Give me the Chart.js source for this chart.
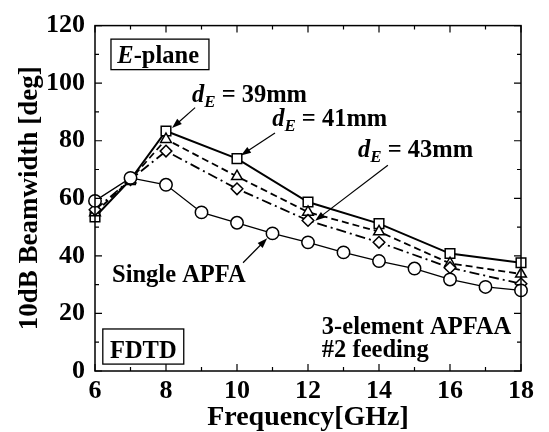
<!DOCTYPE html>
<html><head><meta charset="utf-8">
<script src="https://cdn.jsdelivr.net/npm/chart.js@4"></script>
<style>html,body{margin:0;padding:0;background:#fff}#wrap{width:549px;height:432px;position:relative}</style>
</head><body><div id="wrap"><canvas id="c"></canvas></div>
<script>
// ---- data ----
const arrayFreqs = [6, 7, 8, 10, 12, 14, 16, 18];
const dE39 = [53.5, 66.5, 83.4, 73.8, 58.7, 51.2, 40.8, 37.6];
const dE41 = [55, 66.5, 80.5, 67.6, 55.2, 48.4, 37.4, 33.7];
const dE43 = [56, 66.5, 76.4, 63.3, 52.3, 44.7, 35.9, 30.3];
const singleFreqs = [6, 7, 8, 9, 10, 11, 12, 13, 14, 15, 16, 17, 18];
const singleAPFA = [59.1, 67.1, 64.7, 55.1, 51.5, 47.8, 44.7, 41.2, 38.2, 35.6, 31.8, 29.2, 28];
const xTicks = [6, 8, 10, 12, 14, 16, 18];
const yTicks = [0, 20, 40, 60, 80, 100, 120];

const FONT = '"Liberation Serif", "Times New Roman", serif';
const pts = (xs, ys) => xs.map((x, i) => ({x: x, y: ys[i]}));

function ds(label, xs, ys, style, r, dash, lw) {
  return {label, data: pts(xs, ys), borderColor: '#000', backgroundColor: '#fff',
    pointStyle: style, pointRadius: r, pointHoverRadius: r, pointBorderWidth: 1.5,
    pointBackgroundColor: '#fff', pointBorderColor: '#000', clip: false,
    borderWidth: lw, borderDash: dash, tension: 0, fill: false};
}

const annotations = {
  id: 'annotations',
  afterDraw(chart) {
    const {ctx, chartArea: ca, scales: {x, y}} = chart;
    ctx.save();
    // frame
    ctx.strokeStyle = '#000'; ctx.lineWidth = 1.5;
    ctx.strokeRect(ca.left, ca.top, ca.right - ca.left, ca.bottom - ca.top);
    // inward ticks
    ctx.lineWidth = 1.2;
    for (let v = 6; v <= 18; v += 1) {
      const px = x.getPixelForValue(v);
      const len = (v % 2 === 0) ? 7 : 4;
      ctx.beginPath();
      ctx.moveTo(px, ca.bottom); ctx.lineTo(px, ca.bottom - len);
      ctx.moveTo(px, ca.top); ctx.lineTo(px, ca.top + len);
      ctx.stroke();
    }
    for (let v = 0; v <= 120; v += 10) {
      const py = y.getPixelForValue(v);
      const len = (v % 20 === 0) ? 7 : 4;
      ctx.beginPath();
      ctx.moveTo(ca.left, py); ctx.lineTo(ca.left + len, py);
      ctx.moveTo(ca.right, py); ctx.lineTo(ca.right - len, py);
      ctx.stroke();
    }
    const X = v => x.getPixelForValue(v), Y = v => y.getPixelForValue(v);
    ctx.fillStyle = '#000';
    ctx.textBaseline = 'alphabetic';
    ctx.textAlign = 'left';
    const bold = 'bold 24.5px ' + FONT, ibold = 'italic bold 24.5px ' + FONT, isub = 'italic bold 17px ' + FONT;

    function dText(x0, y0, rest) {
      let px = X(x0), py = Y(y0);
      ctx.font = ibold; ctx.fillText('d', px, py); px += ctx.measureText('d').width;
      ctx.font = isub; ctx.fillText('E', px, py + 5); px += ctx.measureText('E').width;
      ctx.font = bold; ctx.fillText(rest, px, py);
    }
    function arrow(x1, y1, x2, y2) {
      const a = X(x1), b = Y(y1), c = X(x2), d = Y(y2);
      const ang = Math.atan2(d - b, c - a), L = 10, W = 3.5;
      ctx.lineWidth = 1.2;
      ctx.beginPath(); ctx.moveTo(a, b); ctx.lineTo(c - Math.cos(ang) * L * 0.8, d - Math.sin(ang) * L * 0.8); ctx.stroke();
      ctx.beginPath();
      ctx.moveTo(c, d);
      ctx.lineTo(c - L * Math.cos(ang) + W * Math.sin(ang), d - L * Math.sin(ang) - W * Math.cos(ang));
      ctx.lineTo(c - L * Math.cos(ang) - W * Math.sin(ang), d - L * Math.sin(ang) + W * Math.cos(ang));
      ctx.closePath(); ctx.fill();
    }
    dText(8.73, 93.6, ' = 39mm');
    arrow(8.82, 91.5, 8.17, 84.4);
    dText(10.99, 85.1, ' = 41mm');
    arrow(11.07, 82.7, 10.11, 74.9);
    dText(13.41, 74.2, ' = 43mm');
    arrow(14.25, 71.5, 12.2, 52.2);
    ctx.font = bold;
    ctx.fillText('Single APFA', X(6.48), Y(30.8));
    arrow(10.17, 37.6, 10.85, 46.1);
    ctx.fillText('3-element APFAA', X(12.39), Y(12.9));
    ctx.fillText('#2 feeding', X(12.39), Y(4.7));

    // E-plane box
    ctx.lineWidth = 1.3;
    ctx.fillStyle = '#fff';
    ctx.fillRect(X(6.45), Y(115.3), X(9.21) - X(6.45), Y(104.7) - Y(115.3));
    ctx.strokeRect(X(6.45), Y(115.3), X(9.21) - X(6.45), Y(104.7) - Y(115.3));
    ctx.fillStyle = '#000';
    let px = X(6.63), py = Y(107.1);
    ctx.font = ibold; ctx.fillText('E', px, py); px += ctx.measureText('E').width;
    ctx.font = bold; ctx.fillText('-plane', px, py);
    // FDTD box
    ctx.fillStyle = '#fff';
    ctx.fillRect(X(6.22), Y(14.6), X(8.5) - X(6.22), Y(2.4) - Y(14.6));
    ctx.strokeRect(X(6.22), Y(14.6), X(8.5) - X(6.22), Y(2.4) - Y(14.6));
    ctx.fillStyle = '#000';
    ctx.font = bold; ctx.textAlign = 'center';
    ctx.fillText('FDTD', (X(6.22) + X(8.5)) / 2, Y(4.6));
    ctx.restore();
  }
};

new Chart(document.getElementById('c'), {
  type: 'line',
  data: {
    datasets: [
      ds('Single APFA', singleFreqs, singleAPFA, 'circle', 6.2, [], 1.3),
      ds('dE = 43mm', arrayFreqs, dE43, 'rectRot', 5.8, [10, 4, 2, 4], 1.8),
      ds('dE = 41mm', arrayFreqs, dE41, 'triangle', 6.2, [7, 4], 1.8),
      ds('dE = 39mm', arrayFreqs, dE39, 'rect', 6.8, [], 2)
    ]
  },
  options: {
    responsive: true, maintainAspectRatio: false, animation: false,
    layout: {padding: {top: 17, right: 28, bottom: 0, left: 0}},
    plugins: {legend: {display: false}, tooltip: {enabled: false}},
    scales: {
      x: {
        type: 'linear', min: 6, max: 18,
        afterBuildTicks: s => { s.ticks = xTicks.map(v => ({value: v})); },
        afterFit: s => { s.height = 61; },
        grid: {display: false, drawTicks: false}, border: {display: false},
        ticks: {color: '#000', padding: 5, font: {family: FONT, size: 26, weight: 'bold'}},
        title: {display: true, text: 'Frequency[GHz]', color: '#000', padding: {top: 0, bottom: -3},
          font: {family: FONT, size: 28, weight: 'bold'}}
      },
      y: {
        type: 'linear', min: 0, max: 120,
        afterBuildTicks: s => { s.ticks = yTicks.map(v => ({value: v})); },
        afterFit: s => { s.width = 95; },
        grid: {display: false, drawTicks: false}, border: {display: false},
        ticks: {color: '#000', padding: 10, font: {family: FONT, size: 26, weight: 'bold'}},
        title: {display: true, text: '10dB Beamwidth [deg]', color: '#000', padding: {top: 14, bottom: 0},
          font: {family: FONT, size: 27, weight: 'bold'}}
      }
    }
  },
  plugins: [annotations]
});
</script></body></html>
